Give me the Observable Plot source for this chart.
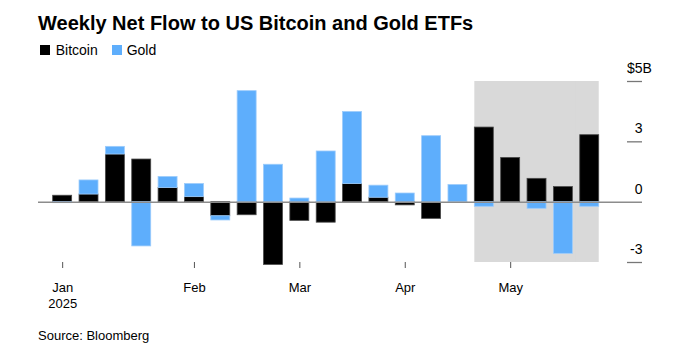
<!DOCTYPE html>
<html>
<head>
<meta charset="utf-8">
<script src="https://cdn.jsdelivr.net/npm/d3@7"></script>
<script src="https://cdn.jsdelivr.net/npm/@observablehq/plot@0.6"></script>
<style>
  body { margin: 0; background: #fff; font-family: "Liberation Sans", Arial, sans-serif; color: #000; }
  #wrap { position: relative; width: 696px; height: 359px; overflow: hidden; background: #fff; }
  .abs { position: absolute; white-space: nowrap; }
  .title { left: 38px; top: 13px; font-size: 20px; line-height: 20px; font-weight: bold; }
  .sw { width: 10px; height: 10px; }
  .lt { font-size: 14px; line-height: 14px; top: 43px; }
  .source { left: 38px; top: 329px; font-size: 13px; line-height: 13px; }
  #chart { position: absolute; left: 0; top: 58px; }
</style>
</head>
<body>
<div id="wrap">
  <div class="abs title">Weekly Net Flow to US Bitcoin and Gold ETFs</div>
  <div class="abs sw" style="left:40px;top:44.5px;background:#000;"></div>
  <div class="abs lt" style="left:55.7px;">Bitcoin</div>
  <div class="abs sw" style="left:112.3px;top:44.5px;background:#5eaefc;"></div>
  <div class="abs lt" style="left:126.7px;">Gold</div>
  <div id="chart"></div>
  <div class="abs source">Source: Bloomberg</div>
</div>
<script>
// Weeks (week ending Friday)
const weeks = [
  "2025-01-03","2025-01-10","2025-01-17","2025-01-24","2025-01-31",
  "2025-02-07","2025-02-14","2025-02-21","2025-02-28",
  "2025-03-07","2025-03-14","2025-03-21","2025-03-28",
  "2025-04-04","2025-04-11","2025-04-18","2025-04-25",
  "2025-05-02","2025-05-09","2025-05-16","2025-05-23"
];
// Net flows, $ billions
const bitcoin = [0.32, 0.38, 2.37, 2.12, 0.70, 0.25, -0.70, -0.65, -3.12, -0.93, -1.02, 0.90, 0.22, -0.16, -0.83, 0, 3.71, 2.20, 1.16, 0.75, 3.33];
const gold    = [-0.05, 0.70, 0.38, -2.20, 0.55, 0.65, -0.21, 5.52, 1.86, 0.18, 2.52, 3.58, 0.60, 0.43, 3.28, 0.85, -0.23, 0, -0.33, -2.57, -0.23];
const seriesNames = ["Bitcoin", "Gold"];
const seriesColors = ["#000000", "#5eaefc"];
const shadedWeeks = ["2025-04-25","2025-05-02","2025-05-09","2025-05-16","2025-05-23"];
const xTickWeeks = ["2025-01-03","2025-02-07","2025-03-07","2025-04-04","2025-05-02"];
const xTickLabels = ["Jan\n2025","Feb","Mar","Apr","May"];
const yTicks = [6, 3, 0, -3];
const yTickLabels = ["$5B", "3", "0", "-3"];

const data = [];
weeks.forEach((w, i) => {
  data.push({week: w, series: "Bitcoin", value: bitcoin[i]});
  data.push({week: w, series: "Gold", value: gold[i]});
});
const bars = data.filter(d => d.value !== 0);

const chart = Plot.plot({
  width: 696,
  height: 252,
  marginLeft: 38,
  marginRight: 54,
  marginTop: 23,
  marginBottom: 48,
  style: {fontFamily: '"Liberation Sans", Arial, sans-serif', fontSize: "13px", color: "#000", background: "transparent", overflow: "visible"},
  x: {type: "band", domain: weeks, range: [45.3, 606.1], padding: 0.28, round: false, axis: null, label: null},
  y: {domain: [-3, 6], axis: null, label: null},
  color: {domain: seriesNames, range: seriesColors},
  marks: [
    Plot.barY([shadedWeeks[0]], {x: d => d, y1: -3, y2: 6, fill: "#d9d9d9", insetRight: -4}),
    Plot.barY(shadedWeeks.slice(1, -1), {x: d => d, y1: -3, y2: 6, fill: "#d9d9d9", insetLeft: -4, insetRight: -4}),
    Plot.barY([shadedWeeks[shadedWeeks.length - 1]], {x: d => d, y1: -3, y2: 6, fill: "#d9d9d9", insetLeft: -4}),
    Plot.barY(bars, {
      x: "week", y: "value", fill: "series",
      stroke: d => d.series === "Bitcoin" ? "#4a4a4a" : "#9ccbfb",
      strokeWidth: 0.8
    }),
    Plot.ruleY([0], {stroke: "#8c8c8c", strokeWidth: 1.5}),
    Plot.ruleY(yTicks.filter(d => d !== 0), {stroke: "#777", strokeWidth: 1.3, insetLeft: 589}),
    Plot.text(yTicks, {
      y: d => d,
      text: (d, i) => yTickLabels[i].replace("B", ""),
      frameAnchor: "right", textAnchor: "end", dy: -13, fontSize: 14, fill: "#000"
    }),
    Plot.text(yTicks.filter((d, i) => yTickLabels[i].includes("B")), {
      y: d => d, text: () => "B",
      frameAnchor: "right", textAnchor: "start", dy: -13, fontSize: 14, fill: "#000"
    }),
    Plot.axisX(xTickWeeks, {
      tickFormat: d => xTickLabels[xTickWeeks.indexOf(d)],
      tickSize: 6, tickPadding: 11, fontSize: 13, lineHeight: 1.3,
      stroke: "#555", fill: "#000", label: null
    })
  ]
});
document.getElementById("chart").appendChild(chart);
</script>
</body>
</html>
